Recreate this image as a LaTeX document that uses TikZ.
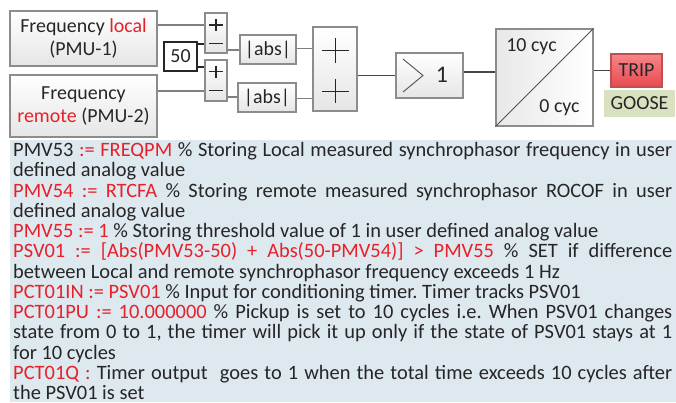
\documentclass[tikz,border=0pt]{standalone}
\usepackage{fontspec}
\setmainfont{Carlito}
\frenchspacing
\definecolor{txt}{HTML}{262626}
\definecolor{rd}{HTML}{E8202A}
\definecolor{bordr}{HTML}{8C8C8C}
\definecolor{wirec}{HTML}{7F7F7F}
\definecolor{panelbg}{HTML}{DEE8EF}
\definecolor{tripA}{HTML}{F6868A}
\definecolor{tripB}{HTML}{E8494E}
\definecolor{tripD}{HTML}{C0504D}
\definecolor{goosebg}{HTML}{D8E2C0}
\newcommand{\rt}[1]{\textcolor{rd}{#1}}
\newcommand{\jl}[1]{\makebox[659bp][s]{#1}}
\begin{document}
\begin{tikzpicture}[x=1bp,y=-1bp,
 blk/.style={draw=bordr, line width=1.1bp, top color=white, bottom color=black!10, inner sep=0pt, text=txt, font=\fontsize{20}{24}\selectfont, align=center},
 wire/.style={draw=wirec, line width=1.2bp},
 darkwire/.style={draw=txt, line width=1.2bp},
 sign/.style={draw=txt, line width=1.1bp},
 ln/.style={anchor=base west, inner sep=0pt, text=txt, font=\fontsize{20.5}{20.3}\selectfont},
]
\useasboundingbox (0,0) rectangle (676,402);
\fill[panelbg] (10,140) rectangle (676,402);

% blocks
\node[blk, minimum width=147bp, minimum height=55bp] (fl) at (83.5,38.5) {Frequency \rt{local}\\(PMU-1)};
\node[blk, minimum width=147bp, minimum height=62bp] (fr) at (83.5,106) {Frequency\\\rt{remote} (PMU-2)};
\node[blk, minimum width=22bp, minimum height=40bp] (s1) at (216,33) {};
\node[blk, minimum width=22bp, minimum height=41bp] (s2) at (216,80.5) {};
\node[draw=txt, line width=1.1bp, fill=white, inner sep=0pt, minimum width=33bp, minimum height=29bp, text=txt, font=\fontsize{20}{24}\selectfont] (fifty) at (180.5,56.5) {50};
\node[blk, minimum width=56bp, minimum height=29bp] (a1) at (268,49.5) {|abs|};
\node[blk, minimum width=58bp, minimum height=29bp] (a2) at (267,97.5) {|abs|};
\node[blk, minimum width=44bp, minimum height=84bp] (s3) at (335,69) {};
\node[blk, minimum width=67bp, minimum height=45bp] (cmp) at (429.5,75.5) {};
\node[text=txt, font=\fontsize{24}{24}\selectfont, inner sep=0pt] (one) at (442,75) {1};
\node[draw=bordr, line width=1.1bp, left color=black!9, right color=white, inner sep=0pt, minimum width=97bp, minimum height=97bp] (tmr) at (544.5,77.5) {};
\node[text=txt, font=\fontsize{20}{24}\selectfont, inner sep=0pt] (t10) at (531.5,47) {10 cyc};
\node[text=txt, font=\fontsize{20}{24}\selectfont, inner sep=0pt] (t0) at (559.5,108) {0 cyc};
\node[draw=tripD, line width=1.1bp, top color=tripA, bottom color=tripB, inner sep=0pt, minimum width=51bp, minimum height=33bp, text=txt, font=\fontsize{20}{24}\selectfont] (trip) at (636.5,70.5) {TRIP};
\node[fill=goosebg, inner sep=0pt, minimum width=71bp, minimum height=27bp, text=txt, font=\fontsize{20}{24}\selectfont] (goose) at (639.5,103.5) {GOOSE};

% signs
\draw[sign] (209,25) -- (223,25) (216,19) -- (216,31);
\draw[sign] (209,43.5) -- (223,43.5);
\draw[sign] (209,71.5) -- (223,71.5) (216,65.5) -- (216,77.5);
\draw[sign] (209,90.5) -- (223,90.5);
\draw[sign, line width=0.9bp] (322,50) -- (349,50) (335.5,38) -- (335.5,63);
\draw[sign, line width=0.9bp] (322,91) -- (349,91) (335.5,79) -- (335.5,103);
\draw[draw=txt!80, line width=0.9bp] (403,59) -- (423,75.5) -- (403,92);
\draw[draw=txt!80, line width=0.8bp] (tmr.south west) -- (tmr.north east);

% connectors
\coordinate (y25) at (0,25);
\coordinate (y44) at (0,44);
\coordinate (y67) at (0,67);
\coordinate (y91) at (0,91);
\coordinate (y50) at (0,50);
\coordinate (y97) at (0,97);
\coordinate (y48) at (0,48.5);
\coordinate (y99) at (0,98.5);
\coordinate (y72) at (0,72);
\draw[wire] (fl.east |- y25) -- (s1.west |- y25);
\draw[darkwire] (fifty.east |- y44) -- (s1.west |- y44);
\draw[darkwire] (fifty.east |- y67) -- (s2.west |- y67);
\draw[wire] (fr.east |- y91) -- (s2.west |- y91);
\draw[wire] (s1.east |- y50) -- (a1.west |- y50);
\draw[wire] (s2.east |- y97) -- (a2.west |- y97);
\draw[wire] (a1.east |- y48) -- (s3.west |- y48);
\draw[wire] (a2.east |- y99) -- (s3.west |- y99);
\draw[darkwire, draw=txt!85] (s3.east |- cmp.west) -- (cmp.west);
\draw[darkwire, draw=txt!85] (cmp.east |- y72) -- (tmr.west |- y72);
\draw[darkwire, draw=txt!85] (tmr.east |- trip.west) -- (trip.west);

% text panel
\node[ln] (l1) at (13,156.5) {\jl{PMV53 \rt{:= FREQPM} \% Storing Local measured synchrophasor frequency in user}};
\node[ln] (l2) at (13,176.75) {defined analog value};
\node[ln] (l3) at (13,197) {\jl{\rt{PMV54 := RTCFA} \% Storing remote measured synchrophasor ROCOF in user}};
\node[ln] (l4) at (13,217.25) {defined analog value};
\node[ln] (l5) at (13,237.5) {\rt{PMV55 := 1} \% Storing threshold value of 1 in user defined analog value};
\node[ln] (l6) at (13,257.75) {\jl{\rt{PSV01 := [Abs(PMV53-50) + Abs(50-PMV54)] > PMV55} \% SET if difference}};
\node[ln] (l7) at (13,278) {between Local and remote synchrophasor frequency exceeds 1 Hz};
\node[ln] (l8) at (13,298.25) {\rt{PCT01IN := PSV01} \% Input for conditioning timer. Timer tracks PSV01};
\node[ln] (l9) at (13,318.5) {\jl{\rt{PCT01PU := 10.000000} \% Pickup is set to 10 cycles i.e. When PSV01 changes}};
\node[ln] (l10) at (13,338.75) {\jl{state from 0 to 1, the timer will pick it up only if the state of PSV01 stays at 1}};
\node[ln] (l11) at (13,359) {for 10 cycles};
\node[ln] (l12) at (13,379.25) {\jl{\rt{PCT01Q :} Timer output\ \ goes to 1 when the total time exceeds 10 cycles after}};
\node[ln] (l13) at (13,399.5) {the PSV01 is set};
\end{tikzpicture}
\end{document}
